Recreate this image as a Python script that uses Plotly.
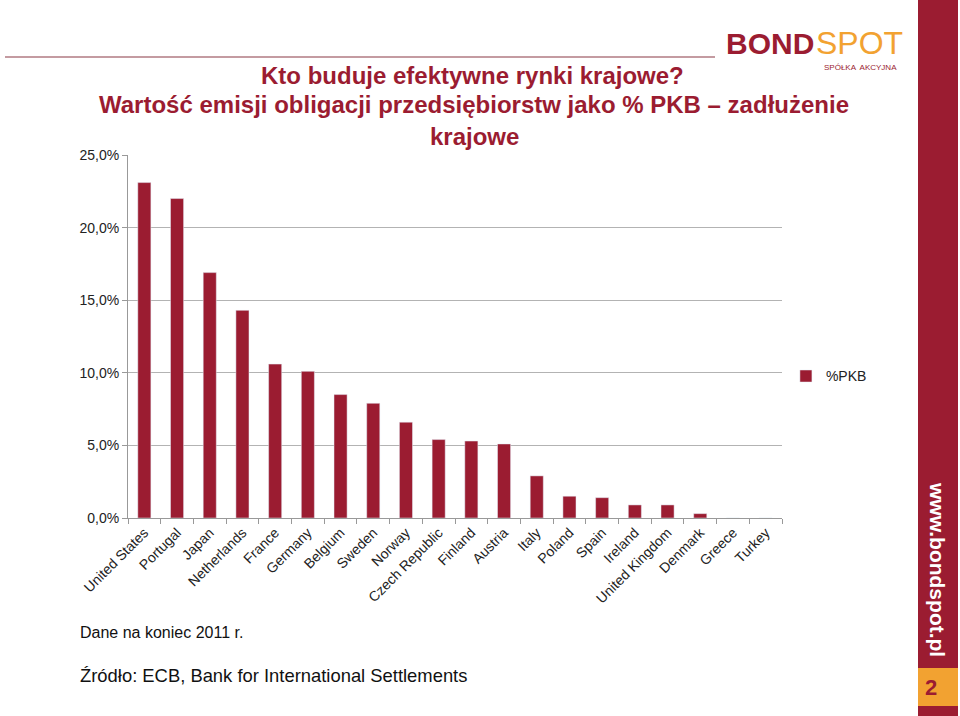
import plotly.graph_objects as go

countries = ["United States", "Portugal", "Japan", "Netherlands", "France", "Germany",
             "Belgium", "Sweden", "Norway", "Czech Republic", "Finland", "Austria",
             "Italy", "Poland", "Spain", "Ireland", "United Kingdom", "Denmark",
             "Greece", "Turkey"]
pkb = [23.1, 22.0, 16.9, 14.3, 10.6, 10.1, 8.5, 7.9, 6.6, 5.4, 5.3, 5.1,
       2.9, 1.5, 1.4, 0.9, 0.9, 0.3, 0.0, 0.0]
yticks = [0, 5, 10, 15, 20, 25]
ytick_labels = ["0,0%", "5,0%", "10,0%", "15,0%", "20,0%", "25,0%"]

RED = "#9B1C31"
ORANGE = "#F2A231"
FONT = "Liberation Sans, Arial, sans-serif"

fig = go.Figure()
fig.add_trace(go.Bar(x=countries, y=pkb, name="%PKB", marker=dict(color=RED)))

fig.update_layout(
    width=960, height=716,
    margin=dict(l=128, r=178, t=155, b=198),
    paper_bgcolor="white", plot_bgcolor="white",
    font=dict(family=FONT, size=14, color="#222"),
    bargap=0.6,
    showlegend=True,
    legend=dict(x=1.006, y=0.39, xanchor="left", yanchor="middle",
                font=dict(size=14, color="#222"), itemwidth=30),
    xaxis=dict(tickangle=-45, showline=True, linecolor="#999", linewidth=1,
               ticks="outside", ticklen=5, tickcolor="#999", tickson="boundaries",
               tickfont=dict(size=14, color="#222"), showgrid=False),
    yaxis=dict(range=[0, 25], tickvals=yticks, ticktext=ytick_labels,
               showline=True, linecolor="#999", linewidth=1, ticks="outside",
               ticklen=5, tickcolor="#999", showgrid=True, gridcolor="#B3B3B3",
               gridwidth=1, zeroline=False, tickfont=dict(size=14, color="#222")),
)


def px(x):
    return (x - 128) / 654


def py(y):
    return (518 - y) / 363


fig.add_shape(type="line", xref="paper", yref="paper", x0=px(5), x1=px(715),
              y0=py(57), y1=py(57), line=dict(color="#B07A82", width=1.5))
fig.add_shape(type="rect", xref="paper", yref="paper", x0=px(918), x1=px(958),
              y0=py(716), y1=py(0), fillcolor=RED, line=dict(width=0), layer="below")
fig.add_shape(type="rect", xref="paper", yref="paper", x0=px(918), x1=px(958),
              y0=py(706), y1=py(668), fillcolor=ORANGE, line=dict(width=0))

ann = [
    dict(text="<b>Kto buduje efektywne rynki krajowe?</b>", x=px(472), y=py(75),
         font=dict(size=24, color=RED, family=FONT), xanchor="center", yanchor="middle"),
    dict(text="<b>Wartość emisji obligacji przedsiębiorstw jako % PKB – zadłużenie</b>",
         x=px(474), y=py(105), font=dict(size=24, color=RED, family=FONT),
         xanchor="center", yanchor="middle"),
    dict(text="<b>krajowe</b>", x=px(474), y=py(136), font=dict(size=24, color=RED, family=FONT),
         xanchor="center", yanchor="middle"),
    dict(text="Dane na koniec 2011 r.", x=px(78), y=py(632),
         font=dict(size=16, color="#111"), xanchor="left", yanchor="middle"),
    dict(text="Źródło: ECB, Bank for International Settlements", x=px(78), y=py(675),
         font=dict(size=18.4, color="#111"), xanchor="left", yanchor="middle"),
    dict(text="<b>BOND</b>", x=px(816), y=py(43), font=dict(size=30, color=RED, family=FONT),
         xanchor="right", yanchor="middle"),
    dict(text="SPOT", x=px(814), y=py(43), font=dict(size=32, color=ORANGE, family=FONT),
         xanchor="left", yanchor="middle"),
    dict(text="SPÓŁKA  AKCYJNA", x=px(860), y=py(67), font=dict(size=8, color=RED, family=FONT),
         xanchor="center", yanchor="middle"),
    dict(text="<b>www.bondspot.pl</b>", x=px(938), y=py(570), textangle=90,
         font=dict(size=21, color="white", family=FONT), xanchor="center", yanchor="middle"),
    dict(text="<b>2</b>", x=px(931), y=py(687), font=dict(size=22, color=RED, family=FONT),
         xanchor="center", yanchor="middle"),
]
for a in ann:
    a.update(xref="paper", yref="paper", showarrow=False)
    fig.add_annotation(**a)

fig.write_html("out.html")
